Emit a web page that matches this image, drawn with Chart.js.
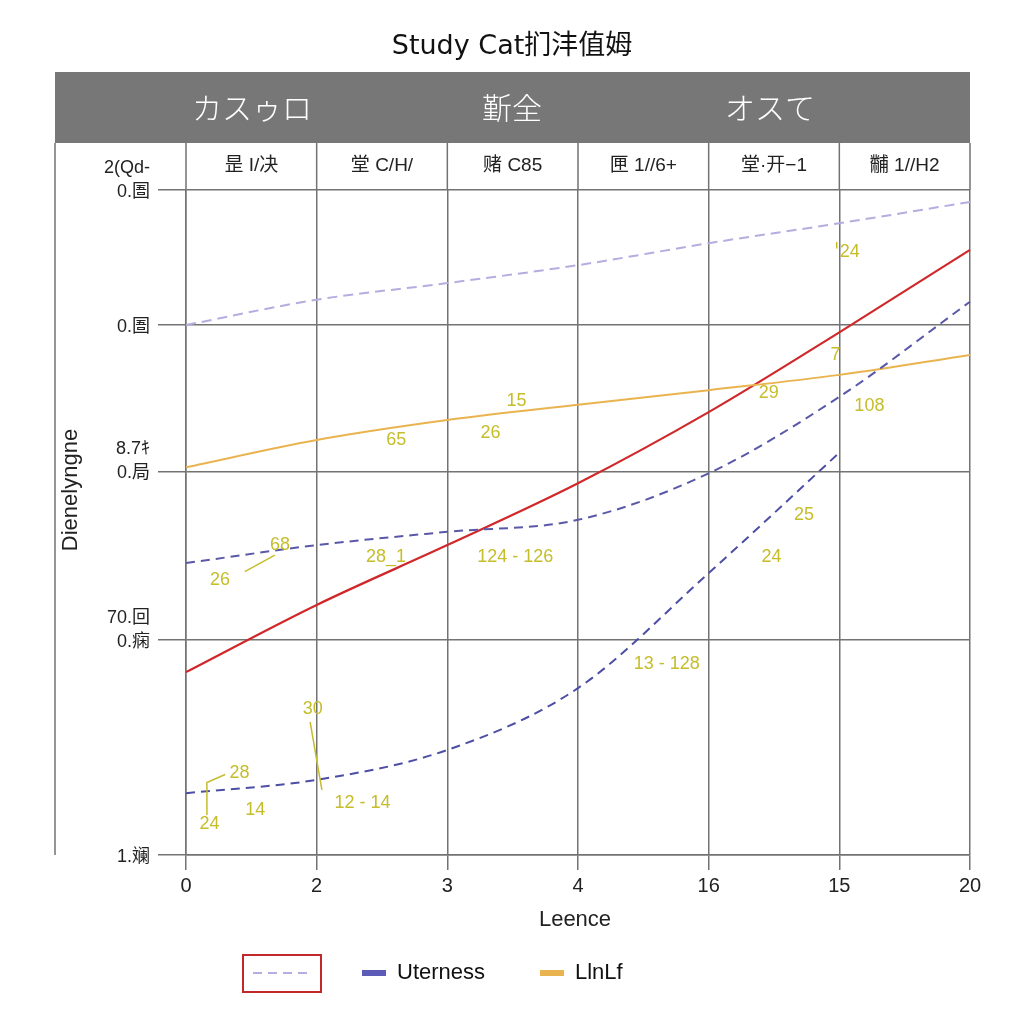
<!DOCTYPE html>
<html>
<head>
<meta charset="utf-8">
<script src="https://cdn.jsdelivr.net/npm/chart.js@4/dist/chart.umd.min.js"></script>
<style>
  html, body { margin: 0; padding: 0; background: #fff; }
  canvas { display: block; }
</style>
</head>
<body>
<canvas id="mycanvas" width="1024" height="1024"></canvas>
<script>
var xLabels = ['0', '2', '3', '4', '16', '15', '20'];

var redLine = [27.5, 37.6, 46.6, 55.9, 66.6, 78.6, 91.0];
var orangeLine = [58.3, 62.4, 65.4, 67.7, 69.9, 72.2, 75.2];
var lavenderLine = [79.7, 83.5, 86.0, 88.7, 92.0, 95.0, 98.2];
var middleLine = [43.9, 46.6, 48.6, 50.4, 57.4, 68.9, 83.2];
var bottomLine = [9.3, 11.3, 15.8, 25.1, 42.4, 60.5, null];

var yTicks = [0, 32.3, 57.7, 79.7, 100];
var yTickLabels = [['1.斓'], ['70.回', '0.痫'], ['8.7ｷ', '0.局'], ['0.圄'], ['2(Qd-', '0.圄']];

var headerTexts = ['カスゥロ', '斳全', 'オスて'];
var cellTexts = ['昰 I/决', '堂 C/H/', '赌 C85', '匣 1//6+', '堂·开−1', '黼 1//H2'];

// point labels: [x index, y value, text]
var pointLabels = [
    [5.08, 90.7, '24'], [4.97, 75.2, '7'], [4.46, 69.5, '29'], [5.23, 67.5, '108'],
    [2.53, 68.3, '15'], [1.61, 62.4, '65'], [2.33, 63.5, '26'], [0.72, 46.6, '68'],
    [0.26, 41.4, '26'], [1.53, 44.8, '28_1'], [2.52, 44.8, '124 - 126'], [4.73, 51.1, '25'],
    [4.48, 44.8, '24'], [3.68, 28.7, '13 - 128'], [0.97, 22.0, '30'], [0.41, 12.3, '28'],
    [0.53, 6.8, '14'], [0.18, 4.7, '24'], [1.35, 7.8, '12 - 14']
];
// leader lines: list of [x index, y value] points
var leaderLines = [
    [[0.45, 42.6], [0.68, 45.1]],
    [[0.95, 20.0], [1.04, 9.8]],
    [[0.16, 6.0], [0.16, 10.9], [0.30, 12.1]],
    [[4.98, 92.2], [4.98, 91.2]]
];

var legendLabels = ['', 'Uterness', 'LlnLf'];
var legendColors = ['#b4aee0', '#5c5cb8', '#e9b450'];

var SANS = '"Liberation Sans", "Noto Sans CJK JP", sans-serif';
var GRID = '#737373';

var decor = {
    id: 'decor',
    beforeDraw: function (chart) {
        var c = chart.ctx;
        c.save();
        c.fillStyle = '#fff';
        c.fillRect(0, 0, chart.width, chart.height);
        c.restore();
    },
    afterDraw: function (chart) {
        var c = chart.ctx;
        var x = chart.scales.x, y = chart.scales.y;
        var area = chart.chartArea;
        var tableLeft = 55, headTop = 72, headBottom = 143;
        c.save();

        // title
        c.fillStyle = '#111';
        c.textAlign = 'center';
        c.textBaseline = 'middle';
        c.font = '27px "DejaVu Sans", "Noto Sans CJK JP", sans-serif';
        c.fillText('Study Cat扪沣值姆', 512, 47);

        // header band
        c.fillStyle = '#777777';
        c.fillRect(tableLeft, headTop, area.right - tableLeft, headBottom - headTop);
        c.fillStyle = '#fff';
        c.font = '300 30px "Noto Sans CJK JP", sans-serif';
        var hx = [252, 512, 770];
        for (var i = 0; i < headerTexts.length; i++) {
            c.fillText(headerTexts[i], hx[i], 108);
        }

        // table lines
        c.strokeStyle = GRID;
        c.lineWidth = 1.5;
        c.beginPath();
        c.moveTo(tableLeft, headBottom);
        c.lineTo(tableLeft, area.bottom);
        for (i = 0; i < xLabels.length; i++) {
            var px = x.getPixelForValue(i);
            c.moveTo(px, headBottom);
            c.lineTo(px, area.top);
        }
        c.stroke();

        // sub-header cells
        c.fillStyle = '#222';
        c.font = '19px ' + SANS;
        for (i = 0; i < cellTexts.length; i++) {
            var cx = (x.getPixelForValue(i) + x.getPixelForValue(i + 1)) / 2;
            c.fillText(cellTexts[i], cx, 166);
        }

        // y tick labels
        c.textAlign = 'right';
        c.font = '18px ' + SANS;
        for (i = 0; i < yTicks.length; i++) {
            var py = y.getPixelForValue(yTicks[i]);
            var lines = yTickLabels[i];
            for (var k = 0; k < lines.length; k++) {
                c.fillText(lines[k], 150, py + 2 - (lines.length - 1 - k) * 24);
            }
        }

        // axis titles
        c.textAlign = 'center';
        c.font = '22px ' + SANS;
        c.fillText('Lеence', 575, 920);
        c.save();
        c.translate(71, 490);
        c.rotate(-Math.PI / 2);
        c.fillText('Dienelyngne', 0, 0);
        c.restore();

        // point labels
        c.fillStyle = '#c5bd2a';
        c.font = '18px ' + SANS;
        for (i = 0; i < pointLabels.length; i++) {
            var p = pointLabels[i];
            c.fillText(p[2], x.getPixelForValue(p[0]), y.getPixelForValue(p[1]));
        }
        c.strokeStyle = '#c5bd2a';
        c.lineWidth = 1.5;
        for (i = 0; i < leaderLines.length; i++) {
            var pts = leaderLines[i];
            c.beginPath();
            for (k = 0; k < pts.length; k++) {
                var lx = x.getPixelForValue(pts[k][0]), ly = y.getPixelForValue(pts[k][1]);
                if (k === 0) c.moveTo(lx, ly); else c.lineTo(lx, ly);
            }
            c.stroke();
        }

        // legend
        c.strokeStyle = '#c0282a';
        c.lineWidth = 2;
        c.strokeRect(243, 955, 78, 37);
        c.strokeStyle = legendColors[0];
        c.setLineDash([9, 6]);
        c.beginPath();
        c.moveTo(253, 973);
        c.lineTo(313, 973);
        c.stroke();
        c.setLineDash([]);
        c.textAlign = 'left';
        c.font = '22px ' + SANS;
        var lgx = [362, 540];
        for (i = 1; i < legendLabels.length; i++) {
            c.fillStyle = legendColors[i];
            c.fillRect(lgx[i - 1], 970, 24, 6);
            c.fillStyle = '#111';
            c.fillText(legendLabels[i], lgx[i - 1] + 35, 973);
        }
        c.restore();
    }
};

var chartdata = {
    labels: xLabels,
    datasets: [
        { label: 'Lavender', data: lavenderLine, borderColor: '#b4aee0', borderWidth: 2, borderDash: [10, 6] },
        { label: 'Uterness', data: middleLine, borderColor: '#5a58a8', borderWidth: 2, borderDash: [9, 6] },
        { label: 'Bottom', data: bottomLine, borderColor: '#4d4ea6', borderWidth: 2, borderDash: [9, 6] },
        { label: 'LlnLf', data: orangeLine, borderColor: '#e9b450', borderWidth: 2 },
        { label: 'Red', data: redLine, borderColor: '#d0282a', borderWidth: 2.2 }
    ]
};

var graph = new Chart(document.getElementById('mycanvas'), {
    type: 'line',
    data: chartdata,
    plugins: [decor],
    options: {
        responsive: false,
        animation: false,
        layout: { padding: { top: 190, left: 55, right: 54, bottom: 69 } },
        elements: {
            point: { radius: 0 },
            line: { cubicInterpolationMode: 'monotone', fill: false }
        },
        plugins: {
            legend: { display: false },
            title: { display: false },
            tooltip: { enabled: false }
        },
        scales: {
            x: {
                type: 'category',
                offset: false,
                grid: { color: GRID, lineWidth: 1.5, tickLength: 15, offset: false },
                border: { color: GRID, width: 1.5 },
                ticks: { color: '#222', font: { size: 20, family: SANS }, maxRotation: 0, padding: 4, autoSkip: false },
                afterFit: function (s) { s.height = 100; }
            },
            y: {
                min: 0,
                max: 100,
                grid: { color: GRID, lineWidth: 1.5, tickLength: 28 },
                border: { color: GRID, width: 1.5 },
                ticks: { display: false },
                afterBuildTicks: function (s) {
                    s.ticks = yTicks.map(function (v) { return { value: v }; });
                },
                afterFit: function (s) { s.width = 131; }
            }
        }
    }
});
</script>
</body>
</html>
